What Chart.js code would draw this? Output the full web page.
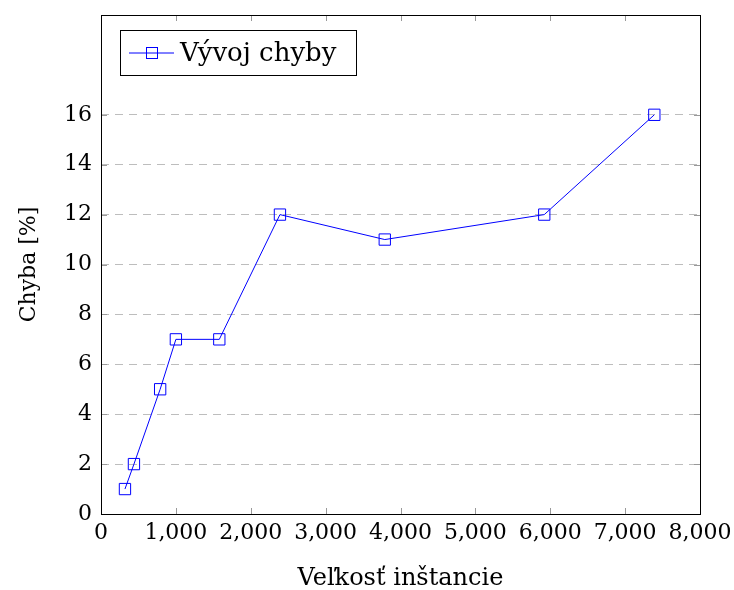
<!DOCTYPE html>
<html>
<head>
<meta charset="utf-8">
<script src="https://cdn.jsdelivr.net/npm/chart.js@4"></script>
<style>
  html, body { margin: 0; padding: 0; background: #fff; }
  #wrap { width: 734px; height: 590px; }
</style>
</head>
<body>
<div id="wrap"><canvas id="chart" width="734" height="590"></canvas></div>
<script>
const sizes = [320, 440, 790, 1000, 1580, 2390, 3790, 5920, 7390];
const errors = [1, 2, 5, 7, 7, 12, 11, 12, 16];
const seriesLabel = 'Vývoj chyby';
const xTitle = 'Veľkosť inštancie';
const yTitle = 'Chyba [%]';

const FONT = 'DejaVu Serif';
const BLUE = '#0000ff';

// frame, inner tick marks and legend box drawn on top of chart area
const framePlugin = {
  id: 'frame',
  afterDraw(chart) {
    const ctx = chart.ctx;
    const a = chart.chartArea;
    const xs = chart.scales.x, ys = chart.scales.y;
    ctx.save();
    ctx.strokeStyle = '#999';
    ctx.lineWidth = 1;
    xs.ticks.forEach(t => {
      const px = Math.round(xs.getPixelForValue(t.value)) + 0.5;
      if (px <= a.left + 1 || px >= a.right - 1) return;
      ctx.beginPath();
      ctx.moveTo(px, a.bottom); ctx.lineTo(px, a.bottom - 6);
      ctx.moveTo(px, a.top); ctx.lineTo(px, a.top + 6);
      ctx.stroke();
    });
    ys.ticks.forEach(t => {
      const py = Math.round(ys.getPixelForValue(t.value)) + 0.5;
      if (py >= a.bottom - 1 || py <= a.top + 1) return;
      ctx.beginPath();
      ctx.moveTo(a.left, py); ctx.lineTo(a.left + 6, py);
      ctx.moveTo(a.right, py); ctx.lineTo(a.right - 6, py);
      ctx.stroke();
    });
    ctx.strokeStyle = '#000';
    ctx.strokeRect(Math.round(a.left) + 0.5, Math.round(a.top) + 0.5,
      Math.round(a.right - a.left), Math.round(a.bottom - a.top));

    // legend
    const lx = 120, ly = 30, lw = 236, lh = 45;
    ctx.fillStyle = '#fff';
    ctx.fillRect(lx, ly, lw, lh);
    ctx.strokeStyle = '#000';
    ctx.strokeRect(lx + 0.5, ly + 0.5, lw, lh);
    const cy = ly + lh / 2 + 0.5;
    ctx.strokeStyle = BLUE;
    ctx.beginPath();
    ctx.moveTo(lx + 9, cy); ctx.lineTo(lx + 54, cy);
    ctx.stroke();
    ctx.strokeRect(lx + 26.5, cy - 5.5, 11, 11);
    ctx.fillStyle = '#000';
    ctx.font = '26px "' + FONT + '"';
    ctx.textBaseline = 'middle';
    ctx.fillText(seriesLabel, lx + 60, cy + 1);
    ctx.restore();
  }
};

const ctx = document.getElementById('chart').getContext('2d');
new Chart(ctx, {
  type: 'line',
  data: {
    datasets: [{
      label: seriesLabel,
      data: sizes.map((s, i) => ({ x: s, y: errors[i] })),
      borderColor: BLUE,
      backgroundColor: 'rgba(0,0,0,0)',
      borderWidth: 1,
      pointStyle: 'rect',
      pointRadius: 8,
      pointBorderWidth: 1,
      pointBorderColor: BLUE,
      pointBackgroundColor: 'rgba(0,0,0,0)',
      tension: 0,
      fill: false
    }]
  },
  options: {
    responsive: false,
    animation: false,
    layout: { padding: { left: 0, right: 34, top: 15, bottom: 0 } },
    plugins: { legend: { display: false }, tooltip: { enabled: false } },
    scales: {
      x: {
        type: 'linear',
        min: 0, max: 8000,
        border: { display: false },
        grid: { display: false, drawTicks: false },
        ticks: {
          stepSize: 1000,
          color: '#000',
          padding: 6,
          font: { family: FONT, size: 22 },
          maxRotation: 0,
          callback: v => v.toLocaleString('en-US')
        },
        title: {
          display: true, text: xTitle, color: '#000',
          font: { family: FONT, size: 24 }, padding: { top: 12, bottom: -3 }
        },
        afterFit(s) { s.height = 76; s.paddingLeft = 0; s.paddingRight = 0; }
      },
      y: {
        min: 0, max: 20,
        border: { display: false, dash: [8, 6] },
        afterBuildTicks(s) { s.ticks = s.ticks.filter(t => t.value <= 16); },
        grid: {
          drawTicks: false,
          color: c => (c.tick && c.tick.value > 0 ? '#bdbdbd' : 'rgba(0,0,0,0)'),
          lineWidth: 1
        },
        ticks: {
          stepSize: 2,
          color: '#000',
          padding: 9,
          font: { family: FONT, size: 22 }
        },
        title: {
          display: true, text: yTitle, color: '#000',
          font: { family: FONT, size: 22 }, padding: { top: 16, bottom: 0 }
        },
        afterFit(s) { s.width = 101; s.paddingTop = 0; s.paddingBottom = 0; }
      }
    }
  },
  plugins: [framePlugin]
});
</script>
</body>
</html>
